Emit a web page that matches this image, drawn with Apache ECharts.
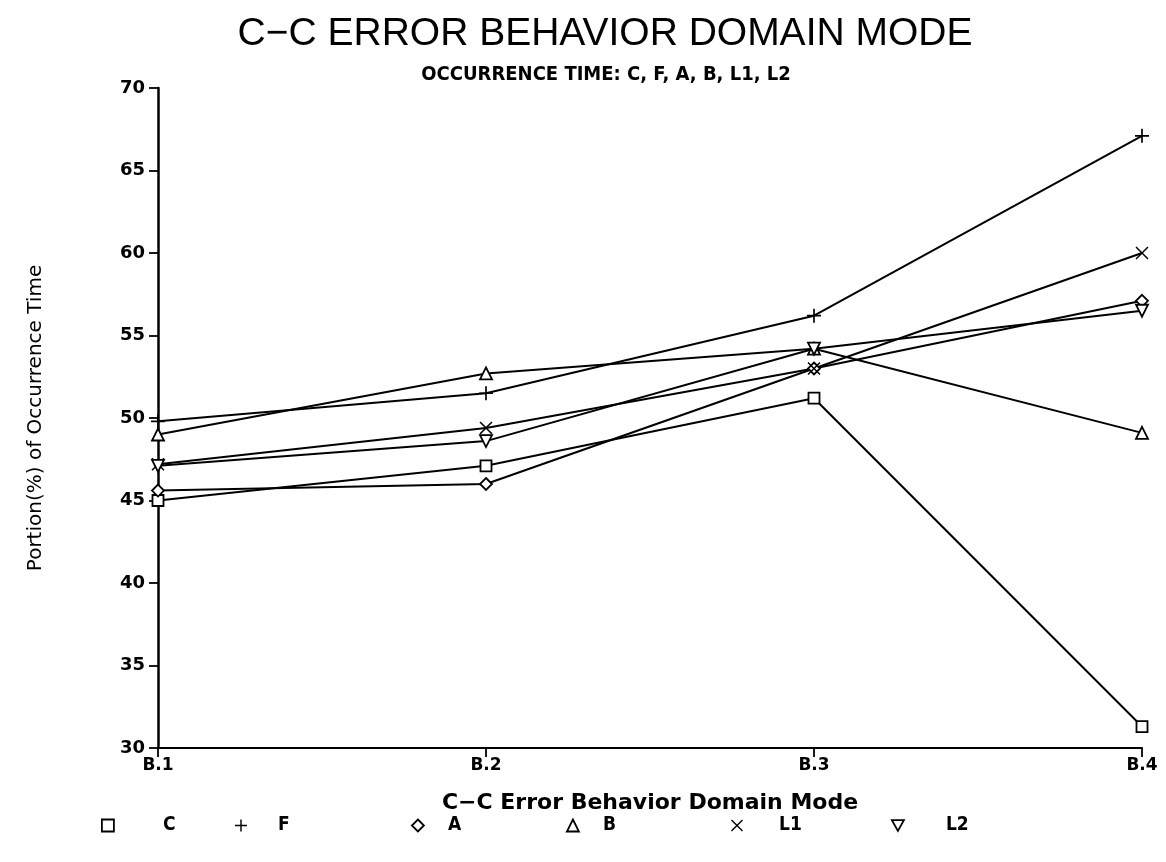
<!DOCTYPE html>
<html>
<head>
<meta charset="utf-8">
<script src="https://cdn.jsdelivr.net/npm/echarts@6/dist/echarts.min.js"></script>
<style>html,body{margin:0;padding:0;background:#fff}#c{width:1166px;height:862px}</style>
</head>
<body>
<div id="c"></div>
<script>
var categories = ['B.1', 'B.2', 'B.3', 'B.4'];
var seriesNames = ['C', 'F', 'A', 'B', 'L1', 'L2'];
var valuesC  = [45.0, 47.1, 51.2, 31.3];
var valuesF  = [49.8, 51.5, 56.2, 67.1];
var valuesA  = [45.6, 46.0, 53.0, 57.1];
var valuesB  = [49.0, 52.7, 54.2, 49.1];
var valuesL1 = [47.2, 49.4, 53.0, 60.0];
var valuesL2 = [47.1, 48.6, 54.2, 56.5];
var yTicks = [30, 35, 40, 45, 50, 55, 60, 65, 70];

var FONT = "'DejaVu Sans Condensed', 'Liberation Sans Narrow', 'Liberation Sans', sans-serif";
var PLUS = 'path://M4.4,0H5.6V4.4H10V5.6H5.6V10H4.4V5.6H0V4.4H4.4Z';
var CROSS = 'path://M0.8,0L5,4.2L9.2,0L10,0.8L5.8,5L10,9.2L9.2,10L5,5.8L0.8,10L0,9.2L4.2,5L0,0.8Z';
var TRI_DOWN = 'path://M0,0L10,0L5,9Z';

var symbolDefs = {
  C:  {symbol: 'rect', size: 11, hollow: true},
  F:  {symbol: PLUS, size: 14, hollow: false},
  A:  {symbol: 'diamond', size: 12, hollow: true},
  B:  {symbol: 'triangle', size: 12, hollow: true},
  L1: {symbol: CROSS, size: 13, hollow: false},
  L2: {symbol: TRI_DOWN, size: 12, hollow: true}
};
var dataMap = {C: valuesC, F: valuesF, A: valuesA, B: valuesB, L1: valuesL1, L2: valuesL2};

var series = seriesNames.map(function (n) {
  var s = symbolDefs[n];
  return {
    name: n,
    type: 'line',
    data: dataMap[n],
    symbol: s.symbol,
    symbolSize: s.size,
    showAllSymbol: true,
    z: 3,
    lineStyle: {color: '#000', width: 2},
    itemStyle: s.hollow ? {color: '#fff', borderColor: '#000', borderWidth: 1.8}
                        : {color: '#000', borderColor: '#000', borderWidth: 0},
    emphasis: {disabled: true},
    animation: false
  };
});

var legendPos = [
  {name: 'C', left: 96, pad: 44},
  {name: 'F', left: 230, pad: 26},
  {name: 'A', left: 406, pad: 19},
  {name: 'B', left: 561, pad: 19},
  {name: 'L1', left: 726, pad: 31},
  {name: 'L2', left: 886, pad: 37}
];
var legends = legendPos.map(function (lp) {
  var s = symbolDefs[lp.name];
  return {
    data: [{name: lp.name, icon: s.symbol, itemStyle: s.hollow ? {color: '#fff', borderColor: '#000', borderWidth: 1.8} : {color: '#000'}}],
    left: lp.left,
    top: 811,
    itemWidth: 12,
    itemHeight: 12,
    selectedMode: false,
    formatter: '{t|{name}}',
    textStyle: {
      rich: {t: {padding: [0, 0, 0, lp.pad], fontFamily: FONT, fontWeight: 'bold', fontSize: 19, color: '#000'}}
    }
  };
});

var chart = echarts.init(document.getElementById('c'));
chart.setOption({
  backgroundColor: '#fff',
  animation: false,
  title: [{
    text: 'C\u2212C ERROR BEHAVIOR DOMAIN MODE',
    left: 600, top: 10, textAlign: 'center',
    textStyle: {fontFamily: "'Liberation Sans', sans-serif", fontWeight: 'normal', fontSize: 39, color: '#000'}
  }, {
    text: 'OCCURRENCE TIME: C, F, A, B, L1, L2',
    left: 601, top: 60, textAlign: 'center',
    textStyle: {fontFamily: FONT, fontWeight: 'bold', fontSize: 20, color: '#000'}
  }],
  legend: legends,
  grid: {left: 158, right: 24, top: 88, bottom: 114},
  xAxis: {
    type: 'category',
    data: categories,
    boundaryGap: false,
    name: 'C\u2212C Error Behavior Domain Mode',
    nameLocation: 'middle',
    nameGap: 44,
    nameTextStyle: {fontFamily: "'DejaVu Sans', sans-serif", fontWeight: 'bold', fontSize: 22, color: '#000'},
    axisLine: {lineStyle: {color: '#000', width: 2}},
    axisTick: {show: true, length: 9, lineStyle: {color: '#000', width: 1.8}},
    axisLabel: {fontFamily: "'DejaVu Sans', sans-serif", fontWeight: 'bold', fontSize: 17, color: '#000', margin: 9},
    splitLine: {show: false}
  },
  yAxis: {
    type: 'value',
    min: yTicks[0],
    max: yTicks[yTicks.length - 1],
    interval: 5,
    name: 'Portion(%) of Occurrence Time',
    nameLocation: 'middle',
    nameGap: 112,
    nameTextStyle: {fontFamily: "'DejaVu Sans', sans-serif", fontSize: 20, color: '#000'},
    axisLine: {show: true, lineStyle: {color: '#000', width: 2.5}},
    axisTick: {show: true, length: 9, lineStyle: {color: '#000', width: 1.8}},
    axisLabel: {fontFamily: "'DejaVu Sans', sans-serif", fontWeight: 'bold', fontSize: 18, color: '#000', margin: 13},
    splitLine: {show: false}
  },
  series: series
});
</script>
</body>
</html>
